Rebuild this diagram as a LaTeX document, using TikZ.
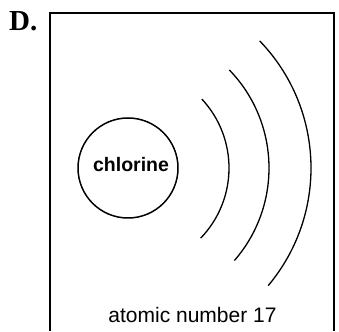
\documentclass[tikz,border=0pt]{standalone}
\usepackage{fontspec}
\newfontfamily\labelfont{Liberation Sans}
\newfontfamily\letterfont{Liberation Serif}
\usepackage{tikz}
\usetikzlibrary{positioning,calc}

\begin{document}
\begin{tikzpicture}[
x=1pt, y=1pt,
atom/.style={draw, circle, line width=1.5pt, minimum size=100pt, inner sep=0pt, fill=white},
wave/.style={line width=1.3pt},
frame/.style={line width=1.2pt}
]
\useasboundingbox (0,0) rectangle (339,331);
\node[font=\letterfont\bfseries\fontsize{29}{29}\selectfont, anchor=base west, inner sep=0pt] (letter) at (9,300) {D.};
\coordinate (frameBL) at (50,0);
\coordinate (frameTR) at (334,318);
\draw[frame] (frameBL) |- (frameTR) -- (frameTR |- frameBL);
\node[atom] (atom) at (128,163) {};
\node[font=\labelfont\bfseries\fontsize{19.5}{19.5}\selectfont, anchor=base, inner sep=0pt] (name) at ($(atom.center)+(3,-4)$) {chlorine};
% sound waves round the atom
\foreach \r/\a/\b in {101/-44/43, 141/-41/44, 183/-40/44}
  \draw[wave] ($(atom.center)+(\a:\r)$) arc[start angle=\a, end angle=\b, radius=\r];
\node[font=\labelfont\fontsize{21}{21}\selectfont, anchor=base, inner sep=0pt] (caption) at (192.5,9) {atomic number 17};
\end{tikzpicture}
\end{document}
